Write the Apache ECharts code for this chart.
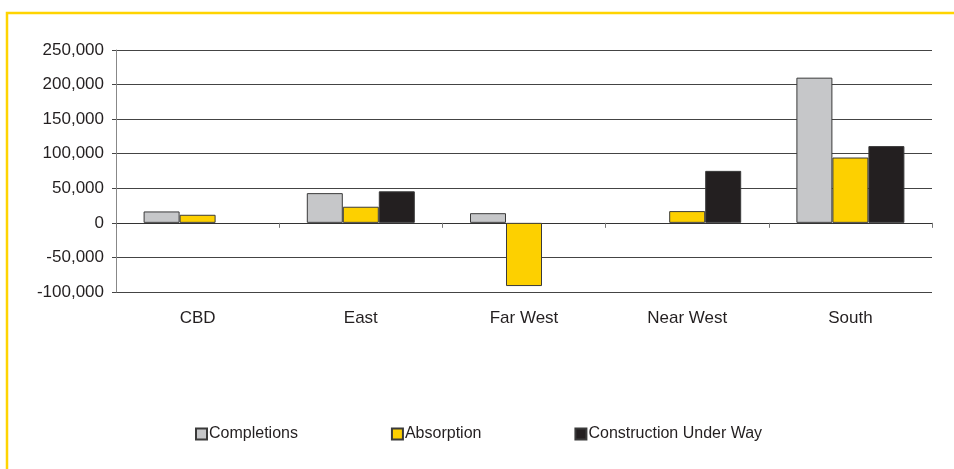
<!DOCTYPE html>
<html>
<head>
<meta charset="utf-8">
<script src="https://cdn.jsdelivr.net/npm/echarts@6/dist/echarts.min.js"></script>
<style>
  html, body { margin: 0; padding: 0; background: #fff; }
  #chart { width: 954px; height: 469px; }
</style>
</head>
<body>
<div id="chart"></div>
<script>
// Submarket categories and net square-footage figures
const categories = ['CBD', 'East', 'Far West', 'Near West', 'South'];
const completions = [16500, 43000, 14000, 0, 210000];
const absorption = [11700, 23300, -91400, 17000, 94500];
const constructionUnderWay = [0, 45600, 0, 75200, 111000];

const yTicks = { min: -100000, max: 250000, interval: 50000 };

const FONT = 'Liberation Sans, Arial, sans-serif';
const TEXT = '#231f20';
const EDGE = '#3a3a3a';

const chart = echarts.init(document.getElementById('chart'), null, { renderer: 'canvas' });

function barSeries(name, data, color) {
  return {
    name: name,
    type: 'bar',
    // a zero entry means no bar for that submarket
    data: data.map(v => (v === 0 ? '-' : v)),
    barWidth: 36,
    barGap: '0%',
    itemStyle: { color: color, borderColor: EDGE, borderWidth: 1 },
    emphasis: { disabled: true }
  };
}

chart.setOption({
  animation: false,
  backgroundColor: '#fff',
  textStyle: { fontFamily: FONT, color: TEXT },
  graphic: [
    {
      // yellow frame along the top and left
      type: 'rect',
      shape: { x: 7, y: 13, width: 1200, height: 800 },
      style: { fill: null, stroke: '#ffd400', lineWidth: 2.5 },
      silent: true
    }
  ],
  grid: { left: 116, right: 22, top: 50, bottom: 177, containLabel: false },
  legend: {
    left: 190,
    top: 421,
    itemWidth: 11,
    itemHeight: 11,
    itemGap: 93,
    icon: 'rect',
    textStyle: { fontFamily: FONT, fontSize: 16, color: TEXT, padding: [0, 0, 0, -3] },
    data: ['Completions', 'Absorption', 'Construction Under Way']
  },
  xAxis: [
    {
      type: 'category',
      data: categories,
      axisLine: { onZero: true, lineStyle: { color: '#333', width: 1 } },
      axisTick: { show: true, length: 5, lineStyle: { color: '#777' } },
      axisLabel: { show: false },
      splitLine: { show: false }
    },
    {
      type: 'category',
      data: categories,
      position: 'bottom',
      axisLine: { show: false, onZero: false },
      axisTick: { show: false },
      axisLabel: { show: true, margin: 18, fontFamily: FONT, fontSize: 17, color: TEXT },
      splitLine: { show: false }
    }
  ],
  yAxis: {
    type: 'value',
    min: yTicks.min,
    max: yTicks.max,
    interval: yTicks.interval,
    axisLine: { show: true, onZero: false, lineStyle: { color: '#888', width: 1 } },
    axisTick: { show: true, length: 4, lineStyle: { color: '#444' } },
    axisLabel: {
      margin: 12,
      fontFamily: FONT,
      fontSize: 17,
      color: TEXT,
      formatter: v => v.toLocaleString('en-US')
    },
    splitLine: { show: true, lineStyle: { color: '#444', width: 1 } }
  },
  series: [
    barSeries('Completions', completions, '#c6c7c9'),
    barSeries('Absorption', absorption, '#fdd000'),
    barSeries('Construction Under Way', constructionUnderWay, '#231f20')
  ]
});
</script>
</body>
</html>
